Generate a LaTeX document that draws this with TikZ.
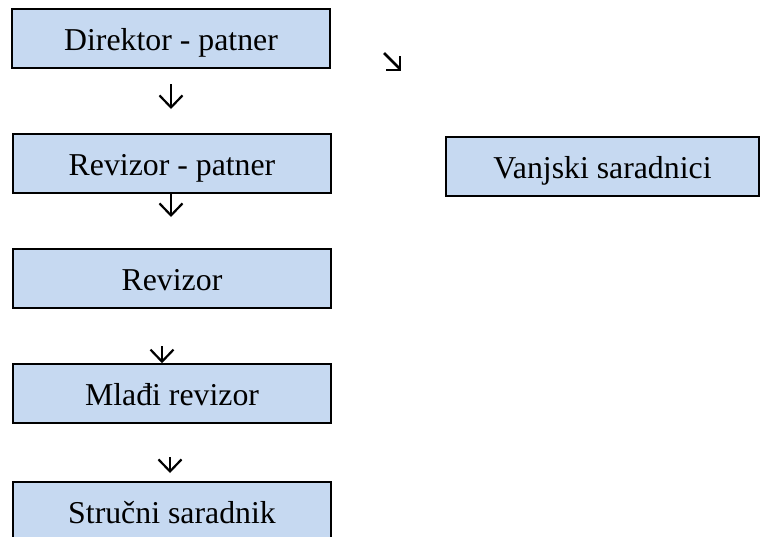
\documentclass[tikz,border=0pt]{standalone}
\usepackage{fontspec}
\setmainfont{Liberation Serif}
\usetikzlibrary{arrows.meta}
\definecolor{boxfill}{RGB}{198,217,241}
\begin{document}
\begin{tikzpicture}[x=1pt,y=-1pt,
  box/.style={draw=black, line width=1.6pt, fill=boxfill, text height=41pt, text depth=18pt,
    inner sep=0pt, font=\fontsize{31.8}{38}\selectfont},
  narrow/.style={box, minimum width=318pt},
  wide/.style={box, minimum width=313pt},
  downarrow/.style={line width=2.2pt, -{Straight Barb[length=12pt,width=23pt,line width=2.2pt]}}]
\useasboundingbox (0,0) rectangle (760,536);
\clip (0,0) rectangle (760,536);
\node[narrow] (dir) at (171,38.5) {Direktor - patner};
\node[narrow] (rp) at (172,163.5) {Revizor - patner};
\node[narrow] (rev) at (172,278.5) {Revizor};
\node[narrow] (ml) at (172,393.5) {Mla\dj i revizor};
\node[narrow] (st) at (172,511.5) {Stručni saradnik};
\node[wide] (vs) at (602.5,166.5) {Vanjski saradnici};
% free-standing arrows
\coordinate (a1s) at (171,84);
\coordinate (a1e) at (171,109);
\draw[downarrow] (a1s) -- (a1e);
\coordinate (a2e) at (171,217);
\draw[downarrow] (rp.south -| a2e) -- (a2e);
\coordinate (a3s) at (162,346);
\draw[downarrow] (a3s) -- (ml.north -| a3s);
\coordinate (a4s) at (170,457);
\coordinate (a4e) at (170,473);
\draw[downarrow] (a4s) -- (a4e);
% diagonal arrow
\coordinate (d1) at (384,53);
\coordinate (d2) at (400,69);
\coordinate (dh1) at (386,70);
\coordinate (dh2) at (400,70);
\coordinate (dh3) at (400,56);
\draw[line width=2.6pt] (d1) -- (d2);
\draw[line width=2.6pt] (dh1) -- (dh2) -- (dh3);
\end{tikzpicture}
\end{document}
